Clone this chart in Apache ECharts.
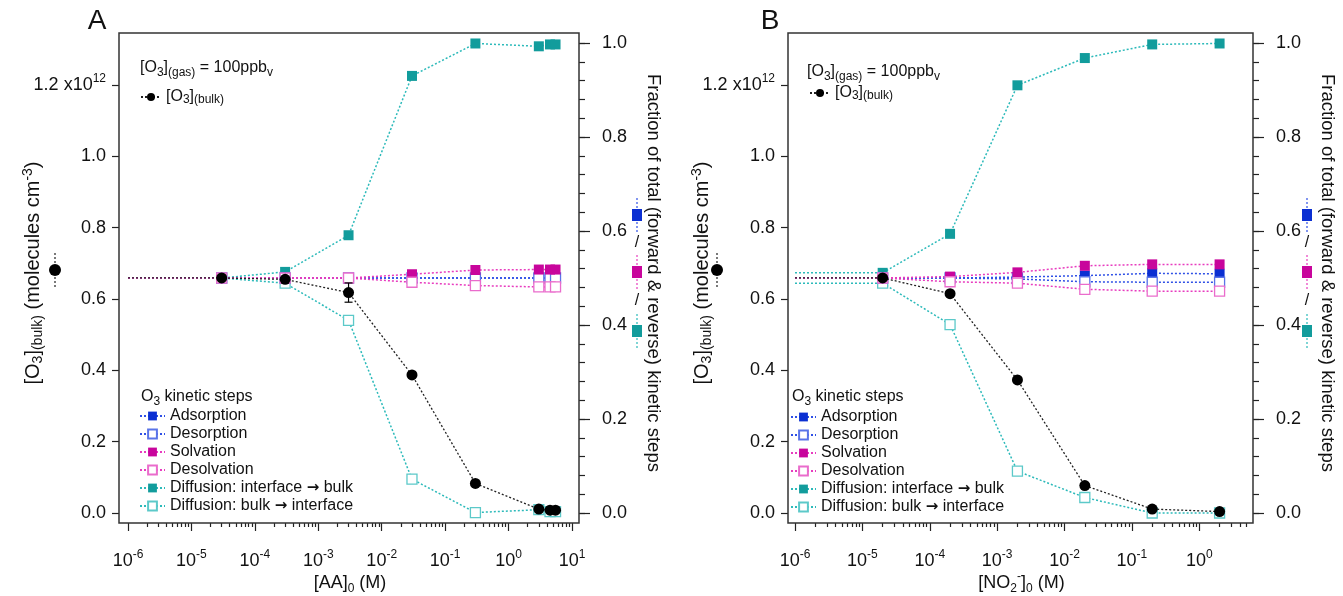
<!DOCTYPE html>
<html><head><meta charset="utf-8">
<script src="https://cdn.jsdelivr.net/npm/echarts@6/dist/echarts.min.js"></script>
<style>html,body{margin:0;padding:0;background:#fff}#c{width:1343px;height:596px}</style>
</head><body><div id="c"></div>
<script>
// ---------------- data ----------------
const stepNames = ['Adsorption','Desorption','Solvation','Desolvation','Diffusion: interface \u2192 bulk','Diffusion: bulk \u2192 interface'];
const bulkName = '[O3](bulk)';

// Panel A : [AA]0 (M)
const xA     = [1e-6, 3e-5, 3e-4, 3e-3, 3e-2, 0.3, 3, 4.5, 5.5];
const bulkA  = [0.659, 0.659, 0.655, 0.618, 0.387, 0.083, 0.011, 0.008, 0.008]; // x10^12 molecules cm-3
const errA   = [0, 0, 0, 0.027, 0, 0, 0, 0, 0];
const adsA   = [0.5, 0.5, 0.5, 0.5, 0.5, 0.5, 0.5, 0.5, 0.5];
const desA   = [0.5, 0.5, 0.5, 0.5, 0.5, 0.5, 0.5, 0.5, 0.5];
const solA   = [0.5, 0.5, 0.5, 0.5, 0.508, 0.517, 0.518, 0.518, 0.518];
const desolA = [0.5, 0.5, 0.5, 0.5, 0.491, 0.484, 0.481, 0.481, 0.481];
const dibA   = [0.5, 0.5, 0.513, 0.591, 0.93, 0.999, 0.993, 0.997, 0.997];
const dbiA   = [0.5, 0.5, 0.489, 0.41, 0.072, 0.001, 0.007, 0.003, 0.003];

// Panel B : [NO2-]0 (M)
const xB     = [1e-6, 2e-5, 2e-4, 2e-3, 2e-2, 0.2, 2];
const bulkB  = [0.659, 0.659, 0.615, 0.373, 0.077, 0.011, 0.004];
const errB   = [0, 0, 0, 0, 0, 0, 0];
const adsB   = [0.5, 0.5, 0.5, 0.502, 0.505, 0.51, 0.509];
const desB   = [0.5, 0.5, 0.5, 0.498, 0.492, 0.491, 0.491];
const solB   = [0.5, 0.5, 0.503, 0.512, 0.526, 0.529, 0.529];
const desolB = [0.5, 0.5, 0.492, 0.489, 0.476, 0.472, 0.472];
const dibB   = [0.511, 0.511, 0.594, 0.91, 0.968, 0.997, 0.999];
const dbiB   = [0.489, 0.489, 0.401, 0.089, 0.033, 0.0, 0.0];

// axis ranges / ticks
const xMinA = 1e-6, xMaxA = 10;
const xMinB = 1e-6, xMaxB = 5.28;
const decadesA = [-6, -5, -4, -3, -2, -1, 0, 1];
const decadesB = [-6, -5, -4, -3, -2, -1, 0];
const leftTicks = [0, 0.2, 0.4, 0.6, 0.8, 1.0, 1.2];
const leftMax = 1.3457;
const rightTicks = [0, 0.2, 0.4, 0.6, 0.8, 1.0];
const rightMax = 1.0213;
const rightMinorStep = 0.04;

// ---------------- styling ----------------
const FONT = 'Liberation Sans, Arial, sans-serif';
const TXT = '#111';
const RICH = {
  sub: {fontSize: 12, lineHeight: 13, verticalAlign: 'bottom', fontFamily: FONT, color: TXT},
  sup: {fontSize: 12, lineHeight: 13, verticalAlign: 'top', fontFamily: FONT, color: TXT},
  arr: {fontSize: 15, fontFamily: 'DejaVu Sans', color: TXT, fontWeight: 'bold'}
};
const RICH_BIG = {
  sub: {fontSize: 14, lineHeight: 14, verticalAlign: 'bottom', fontFamily: FONT, color: TXT},
  sup: {fontSize: 14, lineHeight: 14, verticalAlign: 'top', fontFamily: FONT, color: TXT}
};
const STY = {
  ads:   {line: '#2f50e6', fill: '#0b2fd2', border: '#0b2fd2', open: false},
  des:   {line: '#2f50e6', fill: '#ffffff', border: '#5a74e8', open: true},
  sol:   {line: '#e83cbf', fill: '#c8059c', border: '#c8059c', open: false},
  desol: {line: '#e83cbf', fill: '#ffffff', border: '#ea6ccc', open: true},
  dib:   {line: '#2cbaba', fill: '#129c9c', border: '#129c9c', open: false},
  dbi:   {line: '#2cbaba', fill: '#ffffff', border: '#5cc9c9', open: true}
};

function minorLogs(lo, hi) {
  const out = [];
  for (let d = -6; d <= 1; d++) for (let k = 2; k <= 9; k++) {
    const v = Math.log10(k) + d;
    if (v > lo + 1e-9 && v < hi + 1e-9) out.push(v);
  }
  return out;
}
function rightMinor() {
  const out = [];
  for (let i = 0; i * rightMinorStep <= 1.0 + 1e-9; i++) out.push(Math.round(i * rightMinorStep * 100) / 100);
  return out;
}

function lineSeries(name, xs, ys, sty, xi, yi) {
  return {
    type: 'line', name, xAxisIndex: xi, yAxisIndex: yi, clip: false,
    data: xs.map((x, i) => i === 0 ? {value: [x, ys[i]], symbol: 'none'} : [x, ys[i]]),
    symbol: 'rect', symbolSize: 10, showAllSymbol: true,
    lineStyle: {color: sty.line, width: 1.5, type: [2, 2]},
    itemStyle: {color: sty.fill, borderColor: sty.border, borderWidth: sty.open ? 1.3 : 0},
    emphasis: {disabled: true}
  };
}
function bulkSeries(xs, ys, xi, yi) {
  return {
    type: 'line', name: bulkName, xAxisIndex: xi, yAxisIndex: yi, clip: false, z: 5,
    data: xs.map((x, i) => i === 0 ? {value: [x, ys[i]], symbol: 'none'} : [x, ys[i]]),
    symbol: 'circle', symbolSize: 11, showAllSymbol: true,
    lineStyle: {color: '#222', width: 1.3, type: [2, 2]},
    itemStyle: {color: '#000'},
    emphasis: {disabled: true}
  };
}
function errSeries(xs, ys, es, xi, yi) {
  return {
    type: 'custom', xAxisIndex: xi, yAxisIndex: yi, z: 4, clip: false,
    data: xs.map((x, i) => [x, ys[i], es[i]]).filter(d => d[2] > 0),
    encode: {x: 0, y: 1},
    renderItem: (params, api) => {
      const x = api.value(0), y = api.value(1), e = api.value(2);
      const t = api.coord([x, y + e]), b = api.coord([x, y - e]);
      const w = 4, st = {stroke: '#000', lineWidth: 1.2};
      return {type: 'group', children: [
        {type: 'line', shape: {x1: t[0], y1: t[1], x2: b[0], y2: b[1]}, style: st},
        {type: 'line', shape: {x1: t[0] - w, y1: t[1], x2: t[0] + w, y2: t[1]}, style: st},
        {type: 'line', shape: {x1: b[0] - w, y1: b[1], x2: b[0] + w, y2: b[1]}, style: st}
      ]};
    }
  };
}

const panels = [
  {grid: {left: 128, right: 1343 - 572, top: 33, bottom: 83, outerBoundsMode: 'none', containLabel: false},
   xMin: xMinA, xMax: xMaxA, decades: decadesA,
   xs: xA, bulk: bulkA, err: errA, ads: adsA, des: desA, sol: solA, desol: desolA, dib: dibA, dbi: dbiA,
   xName: '[AA]{sub|0} (M)', leftOff: 9, rightOff: 7},
  {grid: {left: 795, right: 1343 - 1248, top: 33, bottom: 83, outerBoundsMode: 'none', containLabel: false},
   xMin: xMinB, xMax: xMaxB, decades: decadesB,
   xs: xB, bulk: bulkB, err: errB, ads: adsB, des: desB, sol: solB, desol: desolB, dib: dibB, dbi: dbiB,
   xName: '[NO{sub|2}{sup|-}]{sub|0} (M)', leftOff: 7, rightOff: 5}
];

const noLine = {show: false, onZero: false};
const grids = [], xAxes = [], yAxes = [], series = [];
panels.forEach((p, gi) => {
  grids.push(p.grid);
  const lo = Math.log10(p.xMin), hi = Math.log10(p.xMax);
  const xi = xAxes.length;
  xAxes.push({type: 'log', gridIndex: gi, min: p.xMin, max: p.xMax, show: false, axisLine: noLine});
  xAxes.push({type: 'value', gridIndex: gi, min: lo, max: hi, position: 'bottom', offset: 10,
    axisLine: noLine, splitLine: {show: false},
    axisTick: {show: true, length: 8, customValues: p.decades, lineStyle: {color: '#222', width: 1.2}},
    axisLabel: {customValues: p.decades, margin: 26, fontSize: 18, lineHeight: 24, color: TXT, fontFamily: FONT,
      rich: RICH, formatter: v => '10{sup|' + Math.round(v) + '}'},
    name: p.xName, nameLocation: 'middle', nameGap: 48, nameMoveOverlap: false,
    nameTextStyle: {fontSize: 18, lineHeight: 24, color: TXT, fontFamily: FONT, rich: RICH}});
  xAxes.push({type: 'value', gridIndex: gi, min: lo, max: hi, position: 'bottom', offset: 10,
    axisLine: noLine, splitLine: {show: false}, axisLabel: {show: false},
    axisTick: {show: true, length: 4, customValues: minorLogs(lo, hi), lineStyle: {color: '#222', width: 1.2}}});

  const yi = yAxes.length;
  yAxes.push({type: 'value', gridIndex: gi, min: 0, max: leftMax, position: 'left', offset: p.leftOff,
    axisLine: noLine, splitLine: {show: false},
    axisTick: {show: true, length: 7, customValues: leftTicks, lineStyle: {color: '#222', width: 1.2}},
    axisLabel: {customValues: leftTicks, margin: 13, fontSize: 18, lineHeight: 24, color: TXT, fontFamily: FONT, rich: RICH,
      formatter: v => Math.abs(v - 1.2) < 1e-9 ? '1.2 x10{sup|12}' : v.toFixed(1)},
    name: '[O{sub|3}]{sub|(bulk)} (molecules cm{sup|-3})', nameLocation: 'middle', nameGap: 74, nameMoveOverlap: false,
    nameTextStyle: {fontSize: 20, lineHeight: 24, color: TXT, fontFamily: FONT, rich: RICH_BIG}});
  yAxes.push({type: 'value', gridIndex: gi, min: 0, max: rightMax, position: 'right', offset: p.rightOff,
    axisLine: noLine, splitLine: {show: false},
    axisTick: {show: true, length: 11, customValues: rightTicks, lineStyle: {color: '#222', width: 1.2}},
    axisLabel: {customValues: rightTicks, margin: 23, fontSize: 18, color: TXT, fontFamily: FONT,
      formatter: v => v.toFixed(1)},
    name: 'Fraction of total (forward & reverse) kinetic steps', nameLocation: 'middle', nameGap: 65, nameRotate: -90,
    nameMoveOverlap: false,
    nameTextStyle: {fontSize: 18.5, color: TXT, fontFamily: FONT}});
  yAxes.push({type: 'value', gridIndex: gi, min: 0, max: rightMax, position: 'right', offset: p.rightOff,
    axisLine: noLine, splitLine: {show: false}, axisLabel: {show: false},
    axisTick: {show: true, length: 6, customValues: rightMinor(), lineStyle: {color: '#222', width: 1.2}}});

  const X = xi, YL = yi, YR = yi + 1;
  series.push(lineSeries(stepNames[4], p.xs, p.dib, STY.dib, X, YR));
  series.push(lineSeries(stepNames[5], p.xs, p.dbi, STY.dbi, X, YR));
  series.push(lineSeries(stepNames[0], p.xs, p.ads, STY.ads, X, YR));
  series.push(lineSeries(stepNames[1], p.xs, p.des, STY.des, X, YR));
  series.push(lineSeries(stepNames[2], p.xs, p.sol, STY.sol, X, YR));
  series.push(lineSeries(stepNames[3], p.xs, p.desol, STY.desol, X, YR));
  series.push(errSeries(p.xs, p.bulk, p.err, X, YL));
  series.push(bulkSeries(p.xs, p.bulk, X, YL));
});

// ---------------- decorations ----------------
function txt(x, y, text, size, align) {
  return {type: 'text', x, y, z: 10, style: {text, fontSize: size, fontFamily: FONT, fill: TXT,
    align: align || 'left', verticalAlign: 'middle', rich: RICH, lineHeight: 22}};
}
function keySquare(cx, cy, fill, line) {
  return [
    {type: 'line', z: 10, shape: {x1: cx, y1: cy - 17, x2: cx, y2: cy + 17}, style: {stroke: line, lineWidth: 1.2, lineDash: [2, 2]}},
    {type: 'rect', z: 11, shape: {x: cx - 5, y: cy - 6, width: 10, height: 12}, style: {fill}}
  ];
}
function keyCircle(cx, cy) {
  return [
    {type: 'line', z: 10, shape: {x1: cx, y1: cy - 17, x2: cx, y2: cy + 17}, style: {stroke: '#222', lineWidth: 1.2, lineDash: [2, 2]}},
    {type: 'circle', z: 11, shape: {cx, cy, r: 6}, style: {fill: '#000'}}
  ];
}
const graphics = [];
[{x0: 119, x1: 579, lx: 97, gas: [140, 68], kt: [141, 397], lc: 55, rc: 637},
 {x0: 788, x1: 1253, lx: 770, gas: [807, 72], kt: [792, 397], lc: 717, rc: 1307}].forEach((d, i) => {
  graphics.push({type: 'rect', z: 1, shape: {x: d.x0, y: 33, width: d.x1 - d.x0, height: 490},
    style: {fill: null, stroke: '#333', lineWidth: 1.5}});
  graphics.push(txt(d.lx, 21, i === 0 ? 'A' : 'B', 28, 'center'));
  graphics.push(txt(d.gas[0], d.gas[1], '[O{sub|3}]{sub|(gas)} = 100ppb{sub|v}', 16));
  graphics.push(txt(d.kt[0], d.kt[1], 'O{sub|3} kinetic steps', 16));
  graphics.push(...keyCircle(d.lc, 270));
  graphics.push(...keySquare(d.rc, 215, STY.ads.fill, STY.ads.line));
  graphics.push(txt(d.rc, 243, '/', 16, 'center'));
  graphics.push(...keySquare(d.rc, 272, STY.sol.fill, STY.sol.line));
  graphics.push(txt(d.rc, 301, '/', 16, 'center'));
  graphics.push(...keySquare(d.rc, 331, STY.dib.fill, STY.dib.line));
});

const legendBase = {orient: 'vertical', itemGap: 0, padding: 0, selectedMode: false,
  textStyle: {fontSize: 16, lineHeight: 18, color: TXT, fontFamily: FONT, rich: RICH}};
const stepFmt = n => n.replace('\u2192', '{arr|\u2192}');
const legends = [
  Object.assign({}, legendBase, {left: 139, top: 407, itemWidth: 25, itemHeight: 11, data: stepNames, formatter: stepFmt}),
  Object.assign({}, legendBase, {left: 790, top: 408, itemWidth: 25, itemHeight: 11, data: stepNames, formatter: stepFmt}),
  Object.assign({}, legendBase, {left: 140, top: 88, itemWidth: 20, itemHeight: 10, data: [bulkName],
    formatter: () => '[O{sub|3}]{sub|(bulk)}'}),
  Object.assign({}, legendBase, {left: 809, top: 84, itemWidth: 20, itemHeight: 10, data: [bulkName],
    formatter: () => '[O{sub|3}]{sub|(bulk)}'})
];

const chart = echarts.init(document.getElementById('c'), null, {renderer: 'canvas'});
chart.setOption({
  animation: false,
  backgroundColor: '#fff',
  textStyle: {fontFamily: FONT},
  grid: grids, xAxis: xAxes, yAxis: yAxes, series,
  legend: legends,
  graphic: graphics
});
</script></body></html>
